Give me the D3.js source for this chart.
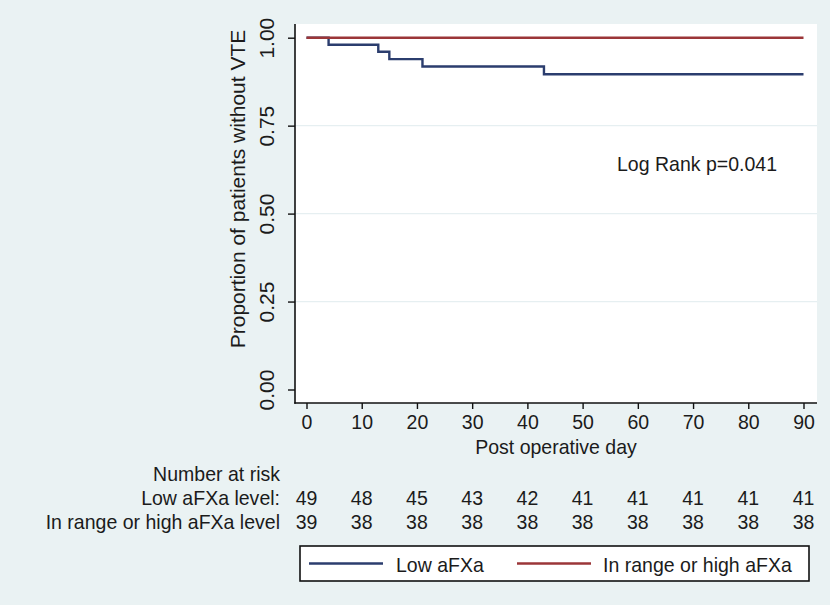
<!DOCTYPE html>
<html>
<head>
<meta charset="utf-8">
<script src="https://cdn.jsdelivr.net/npm/d3@7"></script>
<style>
  html, body { margin: 0; padding: 0; background: #eaf2f3; }
  svg text { font-family: "Liberation Sans", Arial, sans-serif; fill: #1b1b1b; }
</style>
</head>
<body>
<svg id="chart" width="830" height="605"></svg>
<script>
// ---- data ----
const xTicks = [0, 10, 20, 30, 40, 50, 60, 70, 80, 90];
const yTicks = [0, 0.25, 0.5, 0.75, 1];
const yTickLabels = ["0.00", "0.25", "0.50", "0.75", "1.00"];
const lowTimes = [0, 4, 13, 15, 21, 43, 90];
const lowSurv  = [1, 0.98, 0.96, 0.939, 0.918, 0.896, 0.896];
const highTimes = [0, 90];
const highSurv  = [1, 1];
const riskLow  = [49, 48, 45, 43, 42, 41, 41, 41, 41, 41];
const riskHigh = [39, 38, 38, 38, 38, 38, 38, 38, 38, 38];
const seriesNames = ["Low aFXa", "In range or high aFXa"];
const riskRowLabels = ["Low aFXa level:", "In range or high aFXa level"];
const colors = ["#2b3d6e", "#9b3638"];

// ---- layout ----
const svg = d3.select("#chart");
const plot = { left: 295, right: 817, top: 24, bottom: 403 };
const x = d3.scaleLinear().domain([0, 90]).range([306.5, 803.5]);
const y = d3.scaleLinear().domain([0, 1]).range([389.5, 37.7]);
const fs = 21;
const sq = 0.93; // horizontal squeeze of text

function hText(parent, tx, ty, str, anchor) {
  return parent.append("text")
    .attr("transform", `translate(${tx},${ty}) scale(${sq},1)`)
    .attr("text-anchor", anchor || "start")
    .attr("font-size", fs).text(str);
}
function vText(parent, tx, ty, str) {
  return parent.append("text")
    .attr("transform", `translate(${tx},${ty}) rotate(-90) scale(1,${sq})`)
    .attr("text-anchor", "middle")
    .attr("font-size", fs).text(str);
}

svg.append("rect").attr("width", 830).attr("height", 605).attr("fill", "#eaf2f3");
svg.append("rect")
  .attr("x", plot.left).attr("y", plot.top)
  .attr("width", plot.right - plot.left).attr("height", plot.bottom - plot.top)
  .attr("fill", "#ffffff");

// gridlines
svg.append("g").selectAll("line").data(yTicks.filter(v => v > 0 && v < 1)).join("line")
  .attr("x1", plot.left).attr("x2", plot.right)
  .attr("y1", d => y(d)).attr("y2", d => y(d))
  .attr("stroke", "#e6eff1").attr("stroke-width", 1.2);

// curves
const line = d3.line().x(d => x(d[0])).y(d => y(d[1])).curve(d3.curveStepAfter);
const lowData = lowTimes.map((t, i) => [t, lowSurv[i]]);
const highData = highTimes.map((t, i) => [t, highSurv[i]]);
svg.append("path").datum(lowData).attr("d", line)
  .attr("fill", "none").attr("stroke", colors[0]).attr("stroke-width", 2.4);
svg.append("path").datum(highData).attr("d", line)
  .attr("fill", "none").attr("stroke", colors[1]).attr("stroke-width", 2.4);

// axes
const xAxis = svg.append("g").attr("transform", `translate(0,${plot.bottom})`)
  .call(d3.axisBottom(x).tickValues(xTicks).tickSize(6).tickSizeOuter(0));
xAxis.select(".domain").remove();
xAxis.selectAll(".tick line").attr("stroke", "#111").attr("stroke-width", 1.4);
xAxis.selectAll(".tick text")
  .attr("y", null).attr("dy", null)
  .attr("transform", `translate(0,26) scale(${sq},1)`)
  .attr("font-size", fs).attr("font-family", null).style("fill", "#1b1b1b");

const yAxis = svg.append("g").attr("transform", `translate(${plot.left},0)`)
  .call(d3.axisLeft(y).tickValues(yTicks).tickFormat((d, i) => yTickLabels[i]).tickSize(7).tickSizeOuter(0));
yAxis.select(".domain").remove();
yAxis.selectAll(".tick line").attr("stroke", "#111").attr("stroke-width", 1.4);
yAxis.selectAll(".tick text")
  .attr("x", null).attr("dy", null)
  .attr("transform", `translate(-21,0) rotate(-90) scale(1,${sq})`)
  .attr("text-anchor", "middle")
  .attr("font-size", fs).attr("font-family", null).style("fill", "#1b1b1b");

svg.append("line").attr("x1", plot.left).attr("x2", plot.left)
  .attr("y1", plot.top).attr("y2", plot.bottom + 0.7).attr("stroke", "#111").attr("stroke-width", 1.6);
svg.append("line").attr("x1", plot.left - 0.7).attr("x2", plot.right)
  .attr("y1", plot.bottom).attr("y2", plot.bottom).attr("stroke", "#111").attr("stroke-width", 1.6);

// axis titles
hText(svg, (plot.left + plot.right) / 2, 454, "Post operative day", "middle");
vText(svg, 245, 189, "Proportion of patients without VTE");

// annotation
hText(svg, 617, 171, "Log Rank p=0.041");

// number at risk table
hText(svg, 280, 481, "Number at risk", "end");
const rows = [riskLow, riskHigh];
rows.forEach((row, r) => {
  const yy = 505 + r * 24;
  hText(svg, 280, yy, riskRowLabels[r], "end");
  const g = svg.append("g");
  row.forEach((d, i) => hText(g, x(xTicks[i]), yy, d, "middle"));
});

// legend
const lg = svg.append("g");
lg.append("rect").attr("x", 300).attr("y", 546).attr("width", 509).attr("height", 35)
  .attr("fill", "#ffffff").attr("stroke", "#111").attr("stroke-width", 1.6);
const legendItems = [
  { x1: 309, x2: 383, tx: 396 },
  { x1: 517, x2: 591, tx: 603 }
];
legendItems.forEach((it, i) => {
  lg.append("line").attr("x1", it.x1).attr("x2", it.x2).attr("y1", 563.5).attr("y2", 563.5)
    .attr("stroke", colors[i]).attr("stroke-width", 2.4);
  hText(lg, it.tx, 571.5, seriesNames[i]);
});
</script>
</body>
</html>
